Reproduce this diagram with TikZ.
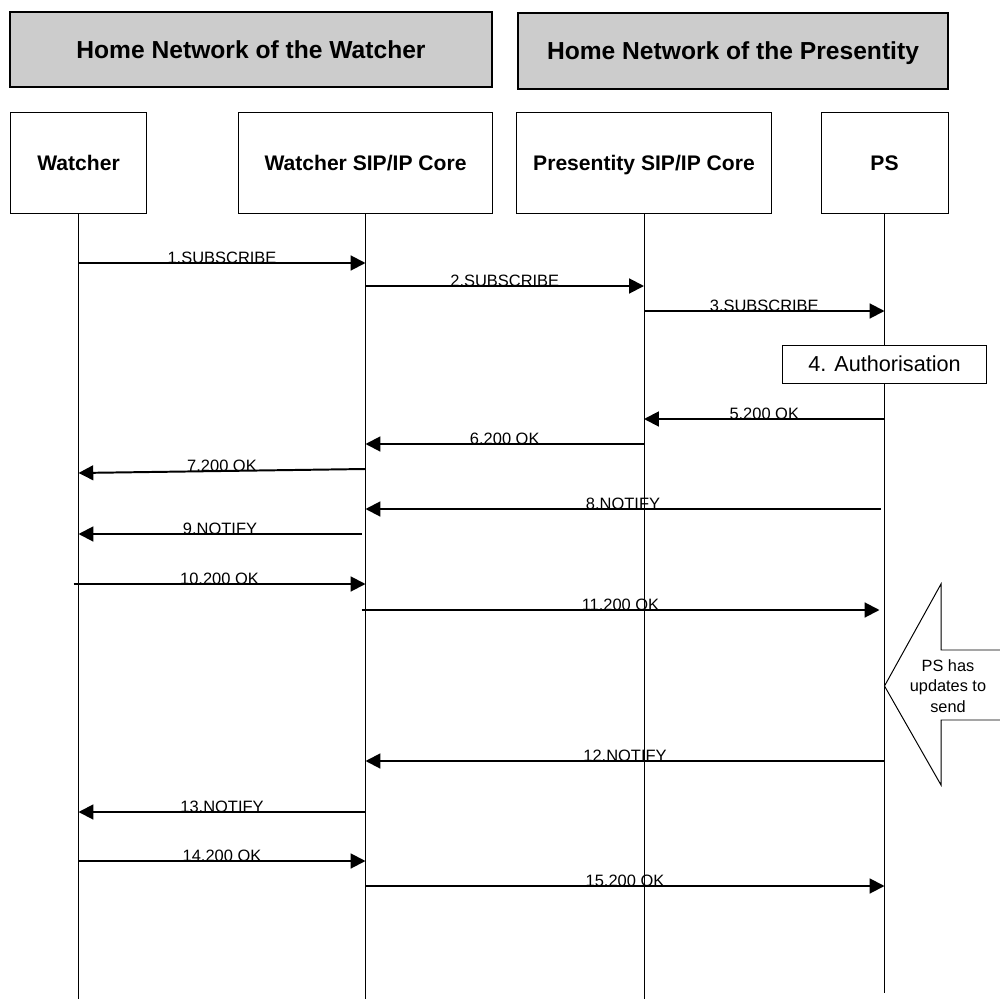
\documentclass[tikz,border=0pt]{standalone}
\usepackage{fontspec}
\setmainfont{Liberation Sans}
\usetikzlibrary{arrows.meta,calc}
\tikzset{
  hdr/.style  = {draw, line width=1.1pt, fill=gray!40, text height=12.5pt, text depth=0pt,
                 font=\fontsize{17.5}{21}\selectfont\bfseries},
  ent/.style  = {draw, line width=0.7pt, fill=white, minimum height=2.5cm, text height=10.7pt, text depth=0pt,
                 font=\fontsize{15}{18}\selectfont\bfseries},
  life/.style = {line width=0.7pt},
  msg/.style  = {line width=1.4pt, -{Triangle[length=10.5pt,width=10.5pt]}},
  lbl/.style  = {anchor=base, inner sep=0pt, font=\fontsize{11.7}{14}\selectfont},
}
\begin{document}
\begin{tikzpicture}
\begin{scope}[x=0.025cm, y=-0.025cm] % one unit = one pixel of the drawing
\useasboundingbox (0,0) rectangle (1000,999);
%%
%% home networks
\node [hdr, minimum width=12.05cm, minimum height=1.875cm] (homeW) at (251,49.5) {Home Network of the Watcher};
\node [hdr, minimum width=10.75cm, minimum height=1.9cm]   (homeP) at (733,51)   {Home Network of the Presentity};
%% entities
\node [ent, minimum width=3.375cm] (watcher) at (78.5,163) {Watcher};
\node [ent, minimum width=6.325cm] (wcore)   at (365.5,163) {Watcher SIP/IP Core};
\node [ent, minimum width=6.35cm]  (pcore)   at (644,163) {Presentity SIP/IP Core};
\node [ent, minimum width=3.175cm] (ps)      at (884.5,163) {PS};
%% lifelines
\draw [life] (watcher.south) -- (watcher |- 0,999);
\draw [life] (wcore.south)   -- (wcore |- 0,999);
\draw [life] (pcore.south)   -- (pcore |- 0,999);
\draw [life] (ps.south)      -- (ps |- 0,993);
%% authorisation
\node [draw, line width=0.7pt, fill=white, minimum width=5.075cm, minimum height=0.95cm,
       font=\fontsize{15.4}{18}\selectfont] (auth) at (884.5,364) {4. Authorisation};
%% PS has updates
\draw [line width=0.7pt, fill=white] (1000,650) -- (941,650) -- (941,584) -- (ps |- 0,686)
      -- (941,785) -- (941,720) -- (1000,720);
\node [align=center, inner sep=0pt, font=\fontsize{11.6}{14.5}\selectfont] (upd) at (948,686) {PS has\\updates to\\send};
%%
%% messages
\draw [msg] (watcher |- 0,263) -- (wcore |- 0,263) node [lbl, midway] {1.SUBSCRIBE};
\draw [msg] (wcore |- 0,286) -- (pcore |- 0,286) node [lbl, midway] {2.SUBSCRIBE};
\draw [msg] (pcore |- 0,311) -- (ps |- 0,311) node [lbl, midway] {3.SUBSCRIBE};
\draw [msg] (ps |- 0,419) -- (pcore |- 0,419) node [lbl, midway] {5.200 OK};
\draw [msg] (pcore |- 0,444) -- (wcore |- 0,444) node [lbl, midway] {6.200 OK};
\draw [msg] (wcore |- 0,469) -- (watcher |- 0,473) node [lbl, midway] {7.200 OK};
\draw [msg] ($(ps |- 0,509)+(-4,0)$) -- (wcore |- 0,509) node [lbl, midway] {8.NOTIFY};
\draw [msg] ($(wcore |- 0,534)+(-4,0)$) -- (watcher |- 0,534) node [lbl, midway] {9.NOTIFY};
\draw [msg] ($(watcher |- 0,584)+(-5,0)$) -- (wcore |- 0,584) node [lbl, midway] {10.200 OK};
\draw [msg] ($(wcore |- 0,610)+(-4,0)$) -- ($(ps |- 0,610)+(-5,0)$) node [lbl, midway] {11.200 OK};
\draw [msg] (ps |- 0,761) -- (wcore |- 0,761) node [lbl, midway] {12.NOTIFY};
\draw [msg] (wcore |- 0,812) -- (watcher |- 0,812) node [lbl, midway] {13.NOTIFY};
\draw [msg] (watcher |- 0,861) -- (wcore |- 0,861) node [lbl, midway] {14.200 OK};
\draw [msg] (wcore |- 0,886) -- (ps |- 0,886) node [lbl, midway] {15.200 OK};
%%
\end{scope}
\end{tikzpicture}
\end{document}
